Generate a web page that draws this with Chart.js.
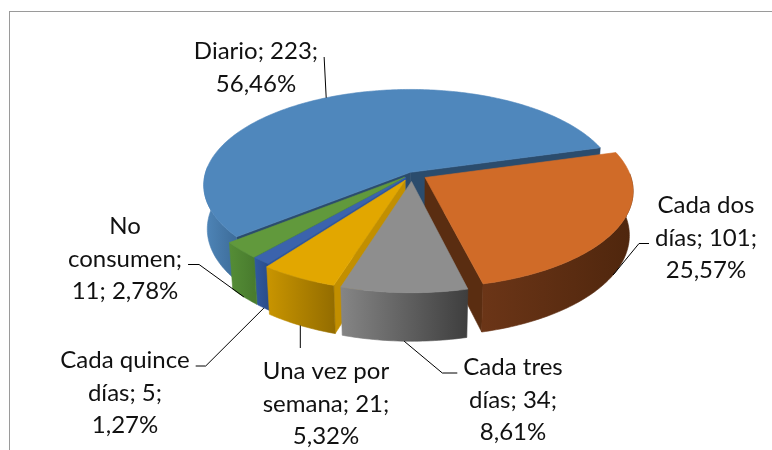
<!DOCTYPE html>
<html>
<head>
<meta charset="utf-8">
<script src="https://cdn.jsdelivr.net/npm/chart.js@4/dist/chart.umd.min.js"></script>
<style>
    body { margin: 0; background: #fff; }
    #wrap { position: relative; width: 772px; height: 450px; overflow: hidden; }
    #frame { position: absolute; left: 9px; top: 11px; width: 800px; height: 500px;
             border-left: 1px solid #9a9a9a; border-top: 1px solid #9a9a9a; }
    canvas { position: absolute; left: 0; top: 0; }
</style>
</head>
<body>
<div id="wrap">
    <div id="frame"></div>
    <canvas id="pieChart" width="772" height="450"></canvas>
</div>
<script>
// Chart data
const categories = ['Diario', 'Cada dos días', 'Cada tres días', 'Una vez por semana', 'Cada quince días', 'No consumen'];
const counts = [223, 101, 34, 21, 5, 11];
// words per label line (label text = "categoría; n; pct")
const labelWrap = [[2, 1], [2, 2, 1], [2, 2, 1], [3, 2, 1], [2, 2, 1], [1, 1, 2]];

// Styles
const topColors  = ['#4f87bc', '#d06b28', '#8e8e8e', '#e2a700', '#3b63ad', '#61993c'];
const wallLight  = ['#4f86b9', '#6b3517', '#858585', '#c99500', '#3059a0', '#558d36'];
const wallDark   = ['#3d6c99', '#4f260d', '#3e3e3e', '#946d00', '#2a4d8a', '#497c2e'];
const faceColors = ['#2b4c6d', '#5a2d11', '#555555', '#c28f00', '#2e55a0', '#4c8a31'];
const explode = [4, 15, 16, 15, 10, 10];

// label layout, relative to the pie centre (baseline of first line)
const labelLayout = [
    { dx: -156, dy: -115, attach: 'right', line: 0, elbow: 0, level: 0 },
    { dx: 294, dy: 39, attach: 'left', line: 1, elbow: 10, level: 1 },
    { dx: 101, dy: 201, attach: 'left', line: 0, elbow: 15, level: 1 },
    { dx: -86, dy: 205, attach: 'top', level: 1 },
    { dx: -287, dy: 194, attach: 'right', line: 0, elbow: 10, level: 1 },
    { dx: -287, dy: 60, attach: 'right', line: 1, elbow: 11, level: 1 }
];

const TILT = 27.4 * Math.PI / 180;
const VIEW_DIST = 1370;
const DEPTH = 50;
const LINE_H = 32.5;
const FONT = '24px Lato';

const total = counts.reduce((a, b) => a + b, 0);
const percents = counts.map(v => (v / total * 100).toFixed(2).replace('.', ',') + '%');
const labelLines = categories.map((cat, i) => {
    const words = `${cat}; ${counts[i]}; ${percents[i]}`.split(' ');
    const lines = [];
    let k = 0;
    labelWrap[i].forEach(n => { lines.push(words.slice(k, k + n).join(' ')); k += n; });
    return lines;
});

// perspective projection of a point on the pie (u right, v towards viewer, h up)
function project(arc, u, v, h) {
    const s = VIEW_DIST / (VIEW_DIST - v * Math.cos(TILT) - h * Math.sin(TILT));
    return { x: arc.x + u * s, y: arc.y + (v * Math.sin(TILT) - h * Math.cos(TILT)) * s };
}

function shift(arc) {
    const mid = (arc.startAngle + arc.endAngle) / 2;
    const off = arc.options.offset || 0;
    return { ex: Math.cos(mid) * off, ey: Math.sin(mid) * off, mid: mid };
}

function rimPoint(arc, ang, h) {
    const { ex, ey } = shift(arc);
    const r = arc.outerRadius;
    return project(arc, ex + r * Math.cos(ang), ey + r * Math.sin(ang), h);
}

function rimPoints(arc, from, to, h) {
    const n = Math.max(2, Math.ceil(Math.abs(to - from) / (Math.PI / 180)));
    const pts = [];
    for (let i = 0; i <= n; i++) {
        pts.push(rimPoint(arc, from + (to - from) * i / n, h));
    }
    return pts;
}

function fillPoly(ctx, pts, color) {
    ctx.beginPath();
    pts.forEach((p, i) => i ? ctx.lineTo(p.x, p.y) : ctx.moveTo(p.x, p.y));
    ctx.closePath();
    ctx.fillStyle = color;
    ctx.fill();
    ctx.strokeStyle = color;
    ctx.lineWidth = 0.6;
    ctx.stroke();
}

function drawSlice(ctx, arc, i) {
    const { ex, ey } = shift(arc);
    const a = arc.startAngle, b = arc.endAngle;
    const c0 = project(arc, ex, ey, 0), c1 = project(arc, ex, ey, -DEPTH);

    // cut faces turned towards the viewer
    if (Math.cos(a) < 0) {
        fillPoly(ctx, [c0, rimPoint(arc, a, 0), rimPoint(arc, a, -DEPTH), c1], faceColors[i]);
    }
    if (Math.cos(b) > 0) {
        fillPoly(ctx, [c0, rimPoint(arc, b, 0), rimPoint(arc, b, -DEPTH), c1], faceColors[i]);
    }

    // front part of the outer wall
    const TAU = Math.PI * 2;
    for (let k = -1; k <= 1; k++) {
        const lo = Math.max(a, -0.04 + k * TAU), hi = Math.min(b, Math.PI + 0.06 + k * TAU);
        if (hi <= lo) continue;
        const topPts = rimPoints(arc, lo, hi, 0);
        const botPts = rimPoints(arc, hi, lo, -DEPTH);
        const xs = topPts.map(p => p.x);
        const g = ctx.createLinearGradient(Math.min(...xs), 0, Math.max(...xs), 0);
        g.addColorStop(0, wallLight[i]);
        g.addColorStop(1, wallDark[i]);
        fillPoly(ctx, topPts.concat(botPts), g);
    }

    // top face
    fillPoly(ctx, [c0].concat(rimPoints(arc, a, b, 0)), topColors[i]);
}

const pie3d = {
    id: 'pie3d',
    beforeDatasetsDraw(chart) {
        const ctx = chart.ctx;
        const arcs = chart.getDatasetMeta(0).data.map((arc, i) => ({ arc: arc, i: i }));
        arcs.sort((p, q) => Math.sin(shift(p.arc).mid) - Math.sin(shift(q.arc).mid));
        ctx.save();
        arcs.forEach(o => drawSlice(ctx, o.arc, o.i));
        ctx.restore();
        return false;
    },
    afterDraw(chart) {
        const ctx = chart.ctx;
        const arcs = chart.getDatasetMeta(0).data;
        ctx.save();
        ctx.font = FONT;
        ctx.textAlign = 'center';
        ctx.textBaseline = 'alphabetic';
        ctx.fillStyle = '#111';
        ctx.strokeStyle = '#000';
        ctx.lineWidth = 1;
        arcs.forEach((arc, i) => {
            const lay = labelLayout[i];
            const x = arc.x + lay.dx, y0 = arc.y + lay.dy;
            const lines = labelLines[i];
            lines.forEach((t, k) => ctx.fillText(t, x, y0 + k * LINE_H));

            // leader line
            const anchor = rimPoint(arc, shift(arc).mid, -DEPTH * lay.level);
            const pts = [];
            if (lay.attach === 'top') {
                pts.push({ x: anchor.x, y: y0 - 31 });
            } else {
                const w = ctx.measureText(lines[lay.line]).width;
                const ly = y0 + lay.line * LINE_H - 2;
                const dir = lay.attach === 'right' ? 1 : -1;
                const ax = x + dir * (w / 2 + 6);
                pts.push({ x: ax, y: ly });
                if (lay.elbow) pts.push({ x: ax + dir * lay.elbow, y: ly });
            }
            pts.push(anchor);
            ctx.beginPath();
            pts.forEach((p, k) => k ? ctx.lineTo(p.x, p.y) : ctx.moveTo(p.x, p.y));
            ctx.stroke();
        });
        ctx.restore();
    }
};

new Chart(document.getElementById('pieChart'), {
    type: 'pie',
    data: {
        labels: categories,
        datasets: [{
            data: counts,
            backgroundColor: topColors,
            borderWidth: 0,
            offset: explode
        }]
    },
    options: {
        responsive: false,
        animation: false,
        events: [],
        rotation: 231,
        radius: 205,
        layout: { padding: { left: 52, right: 0, top: 0, bottom: 102 } },
        plugins: {
            legend: { display: false },
            tooltip: { enabled: false }
        }
    },
    plugins: [pie3d]
});
</script>
</body>
</html>
